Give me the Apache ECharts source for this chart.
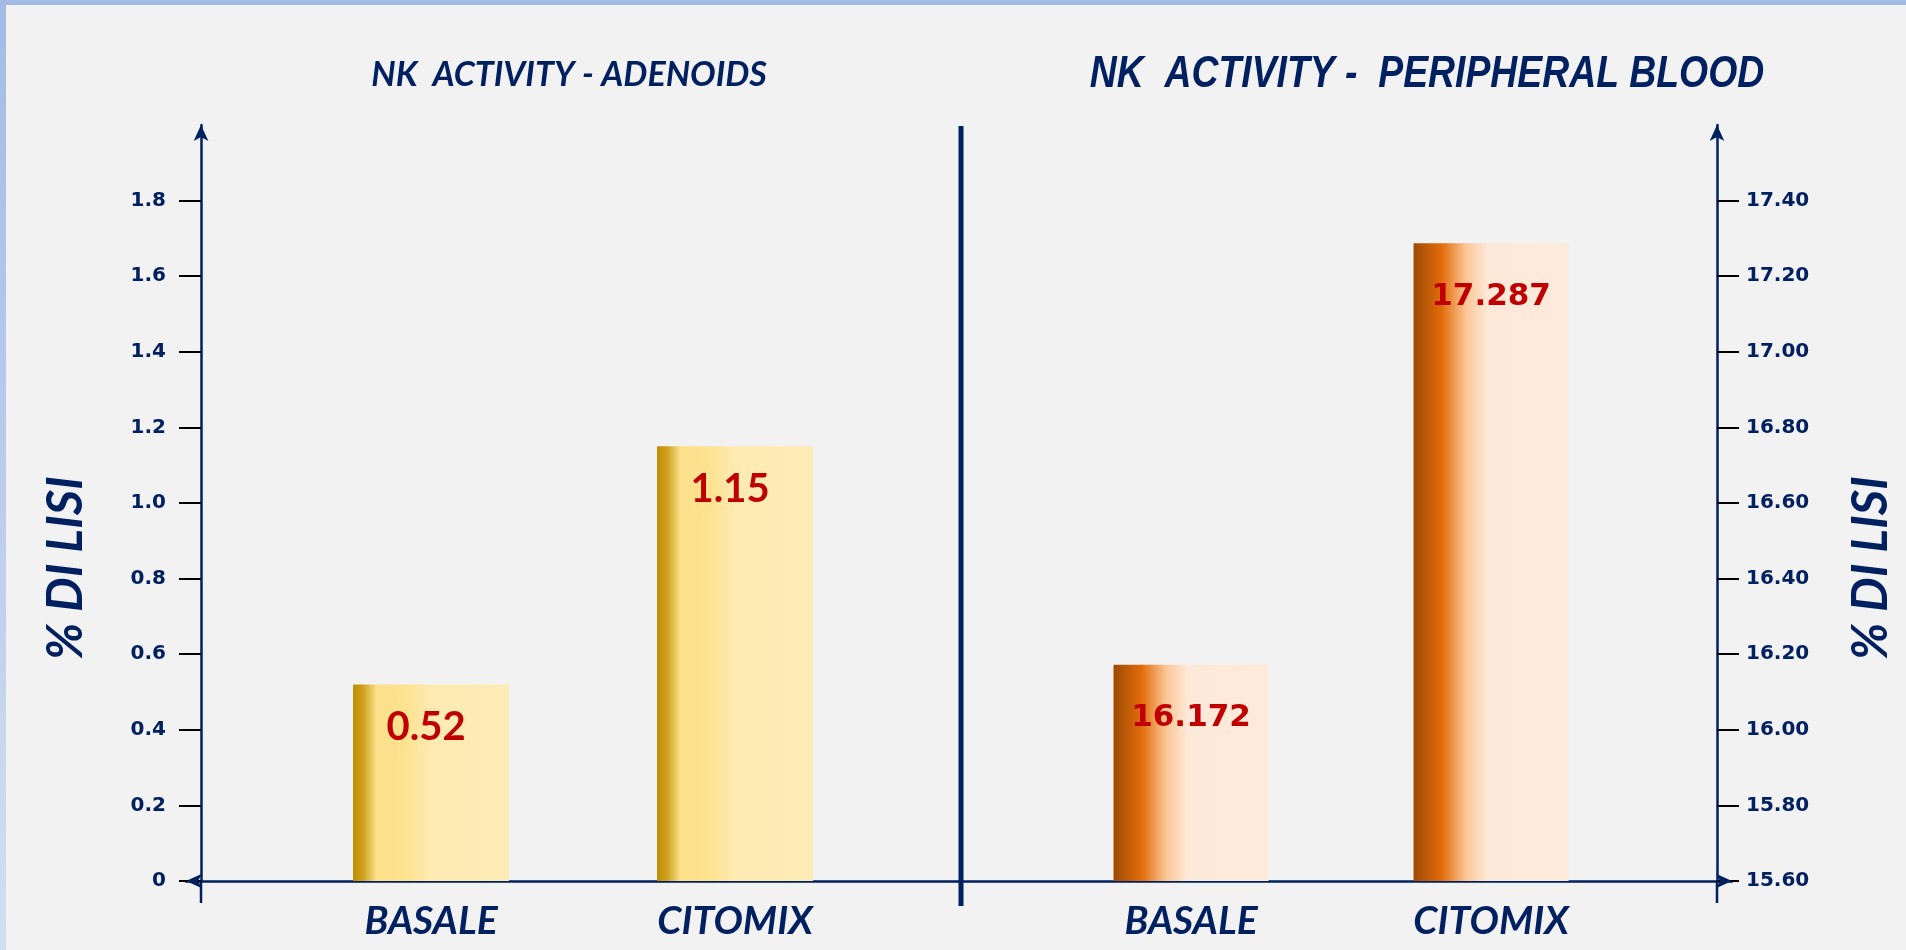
<!DOCTYPE html>
<html>
<head>
<meta charset="utf-8">
<script src="https://cdn.jsdelivr.net/npm/echarts@6/dist/echarts.min.js"></script>
<style>
  html, body { margin: 0; padding: 0; background: #f2f2f2; }
  #chart { width: 1906px; height: 950px; position: absolute; left: 0; top: 0; }
  #topband { position: absolute; left: 0; top: 0; width: 1906px; height: 5px; background: #a3bbe5; z-index: 5; }
  #leftband { position: absolute; left: 0; top: 0; width: 6px; height: 950px; background: linear-gradient(#a3bbe5, #d3def2); z-index: 5; }
</style>
</head>
<body>
<div id="chart"></div>
<div id="topband"></div>
<div id="leftband"></div>
<script>
// ---- data ----
const categories = ['BASALE', 'CITOMIX'];
const adenoidsValues = [0.52, 1.15];
const bloodValues = [16.172, 17.287];
const adenoidsLabels = ['0.52', '1.15'];
const bloodLabels = ['16.172', '17.287'];
const leftTickValues = [0, 0.2, 0.4, 0.6, 0.8, 1.0, 1.2, 1.4, 1.6, 1.8];
const leftTickLabels = ['0', '0.2', '0.4', '0.6', '0.8', '1.0', '1.2', '1.4', '1.6', '1.8'];
const rightTickValues = [15.6, 15.8, 16.0, 16.2, 16.4, 16.6, 16.8, 17.0, 17.2, 17.4];
const rightTickLabels = ['15.60', '15.80', '16.00', '16.20', '16.40', '16.60', '16.80', '17.00', '17.20', '17.40'];
const leftTitle = 'NK  ACTIVITY - ADENOIDS';
const rightTitle = 'NK  ACTIVITY -  PERIPHERAL BLOOD';
const axisName = '% DI LISI';

// ---- styles ----
const NAVY = '#002060';
const RED = '#c00000';
const goldGrad = new echarts.graphic.LinearGradient(0, 0, 1, 0, [
  { offset: 0, color: '#bf8f00' },
  { offset: 0.06, color: '#cc9d1a' },
  { offset: 0.15, color: '#fde08a' },
  { offset: 0.34, color: '#fde290' },
  { offset: 0.5, color: '#feeab2' },
  { offset: 1, color: '#feebb6' }
]);
const orangeGrad = new echarts.graphic.LinearGradient(0, 0, 1, 0, [
  { offset: 0, color: '#9c4a06' },
  { offset: 0.18, color: '#e26b0a' },
  { offset: 0.34, color: '#fbc796' },
  { offset: 0.48, color: '#fde9d9' },
  { offset: 1, color: '#fdeadb' }
]);

const chart = echarts.init(document.getElementById('chart'), null, { renderer: 'canvas' });

function yAxisCommon(pos, ticks, labels, min, max, margin, gap) {
  return {
    type: 'value',
    position: pos,
    min: min, max: max, interval: 0.2,
    splitLine: { show: false },
    axisLine: { show: true, onZero: false, symbol: ['none', 'arrow'], symbolSize: [11, 16],
      lineStyle: { color: NAVY, width: 2.5 } },
    axisTick: { show: true, inside: false, length: 22, customValues: ticks,
      lineStyle: { color: '#000000', width: 2 } },
    axisLabel: { show: true, customValues: ticks, margin: margin,
      formatter: function (v) { const i = ticks.findIndex(t => Math.abs(t - v) < 1e-6); return i >= 0 ? labels[i] : ''; },
      color: NAVY, fontFamily: 'DejaVu Sans', fontWeight: 'bold', fontSize: 20 },
    name: axisName,
    nameLocation: 'middle',
    nameRotate: 90,
    nameGap: gap,
    nameTextStyle: { color: NAVY, fontFamily: 'Lato', fontStyle: 'italic', fontWeight: 'bold', fontSize: 49,
      padding: [0, 130, 0, 0] }
  };
}

function xAxisCommon(min, max, sym) {
  return {
    type: 'value',
    min: min, max: max,
    splitLine: { show: false },
    axisLine: { show: true, onZero: false, symbol: sym, symbolSize: [11, 16],
      lineStyle: { color: NAVY, width: 2.5 } },
    axisTick: { show: false },
    axisLabel: { show: true, customValues: [0, 1], margin: 21,
      formatter: function (v) { return categories[Math.round(v)] || ''; },
      color: NAVY, fontFamily: 'Lato', fontStyle: 'italic', fontWeight: 'bold', fontSize: 39 }
  };
}

const option = {
  backgroundColor: '#f2f2f2',
  animation: false,
  title: [
    { text: leftTitle, left: 569, top: 75, padding: 0, textAlign: 'center', textVerticalAlign: 'middle',
      textStyle: { color: NAVY, fontFamily: 'Lato', fontStyle: 'italic', fontWeight: 'bold', fontSize: 34 } }
  ],
  grid: [
    { left: 186, width: 774, top: 125, height: 756, outerBoundsMode: 'none', containLabel: false },
    { left: 960, width: 772, top: 125, height: 756, outerBoundsMode: 'none', containLabel: false }
  ],
  xAxis: [
    Object.assign({ gridIndex: 0 }, xAxisCommon(-0.806, 1.740, ['arrow', 'none'])),
    Object.assign({ gridIndex: 1 }, xAxisCommon(-0.77, 1.803, ['none', 'arrow']))
  ],
  yAxis: [
    Object.assign({ gridIndex: 0, offset: -15 }, yAxisCommon('left', leftTickValues, leftTickLabels, 0, 2.0, 35, 110)),
    Object.assign({ gridIndex: 1, offset: -15 }, yAxisCommon('right', rightTickValues, rightTickLabels, 15.6, 17.6, 29, 130))
  ],
  series: [
    {
      type: 'bar', xAxisIndex: 0, yAxisIndex: 0, barWidth: 156,
      data: categories.map((c, i) => [i, adenoidsValues[i]]),
      itemStyle: { color: goldGrad },
      label: { show: true, position: 'insideTop', distance: 23, offset: [-5, 0],
        formatter: p => adenoidsLabels[p.dataIndex],
        color: RED, fontFamily: 'Lato', fontWeight: 'bold', fontSize: 40 }
    },
    {
      type: 'bar', xAxisIndex: 1, yAxisIndex: 1, barWidth: 155,
      data: categories.map((c, i) => [i, bloodValues[i]]),
      itemStyle: { color: orangeGrad },
      label: { show: true, position: 'insideTop', distance: 38,
        formatter: p => bloodLabels[p.dataIndex],
        color: RED, fontFamily: 'DejaVu Sans', fontWeight: 'bold', fontSize: 31 }
    }
  ]
};
chart.setOption(option);

// axis decorations: divider, y-axis stubs below the x-axis, and the narrow right-hand title
const yBaseL = chart.convertToPixel({ yAxisIndex: 0 }, 0);
const yBaseR = chart.convertToPixel({ yAxisIndex: 1 }, 15.6);
const yTop = chart.convertToPixel({ yAxisIndex: 0 }, 2.0);
chart.setOption({
  graphic: [
    { type: 'line', shape: { x1: 201, y1: yBaseL, x2: 201, y2: yBaseL + 22 }, style: { stroke: NAVY, lineWidth: 2.5 } },
    { type: 'line', shape: { x1: 1717, y1: yBaseR, x2: 1717, y2: yBaseR + 22 }, style: { stroke: NAVY, lineWidth: 2.5 } },
    { type: 'line', shape: { x1: 961, y1: yTop + 1, x2: 961, y2: yBaseL + 25 }, style: { stroke: NAVY, lineWidth: 5 } },
    { type: 'text', x: 1427, y: 75, scaleX: 0.83,
      style: { text: rightTitle, x: 0, y: 0, align: 'center', verticalAlign: 'middle', fill: NAVY,
        font: 'italic bold 45px "Liberation Sans", Arial, sans-serif' } }
  ]
});
</script>
</body>
</html>
